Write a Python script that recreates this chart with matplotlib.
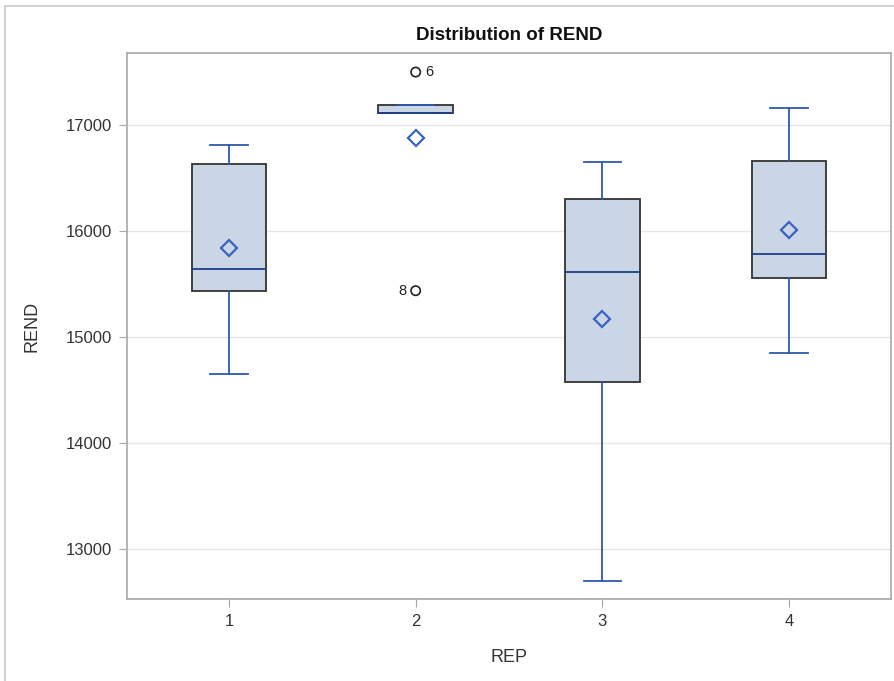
import matplotlib
matplotlib.use("Agg")
import matplotlib.pyplot as plt
from matplotlib.patches import Rectangle

plt.rcParams['font.family'] = ['Liberation Sans', 'DejaVu Sans']

# Box statistics, one entry per REP
reps = [1, 2, 3, 4]
whislo = [14651, 17110, 12698, 14852]
q1 = [15434, 17110, 14575, 15560]
med = [15642, 17112, 15613, 15786]
q3 = [16632, 17189, 16302, 16663]
whishi = [16811, 17189, 16651, 17158]
means = [15840, 16877, 15170, 16012]

# Outliers: (rep, value, obs label, label side)
out_rep = [2, 2]
out_val = [17500, 15437]
out_lab = ['6', '8']
out_side = ['right', 'left']

fill = '#CAD5E5'
blue = '#2F58AD'
dark_blue = '#1E3F8C'

stats = []
for i in range(len(reps)):
    stats.append({'whislo': whislo[i], 'q1': q1[i], 'med': med[i], 'q3': q3[i],
                  'whishi': whishi[i], 'mean': means[i], 'fliers': []})

fig = plt.figure(figsize=(8.95, 6.81), dpi=100)
fig.patches.append(Rectangle((5 / 895, -0.1), 1.1, 1 - 6 / 681 + 0.1,
                             transform=fig.transFigure, fill=False,
                             edgecolor='#C8C8C8', linewidth=1.2))
ax = fig.add_axes([0.1419, 0.1204, 0.8536, 0.8018])

ax.bxp(stats, positions=reps, widths=0.40, showmeans=True, patch_artist=True,
       boxprops=dict(facecolor=fill, edgecolor='#333333', linewidth=1.3),
       whiskerprops=dict(color=blue, linewidth=1.3),
       capprops=dict(color=blue, linewidth=1.3),
       capwidths=0.2,
       medianprops=dict(color=dark_blue, linewidth=1.3),
       meanprops=dict(marker='D', markerfacecolor='none', markeredgecolor='#3A62C0',
                      markeredgewidth=1.6, markersize=8), zorder=3)

ax.scatter(out_rep, out_val, s=45, facecolors='none', edgecolors='#222222',
           linewidths=1.2, zorder=4)
for r, v, lab, side in zip(out_rep, out_val, out_lab, out_side):
    dx = 0.05 if side == 'right' else -0.05
    ax.text(r + dx, v, lab, ha='left' if side == 'right' else 'right',
            va='center', fontsize=10.5, color='#222222')

ax.set_xlim(0.453, 4.547)
ax.set_ylim(12528, 17680)
ax.set_xticks(reps)
ax.set_xticklabels([str(r) for r in reps])
ax.set_yticks([13000, 14000, 15000, 16000, 17000])
ax.grid(axis='y', color='#E6E6E6', linewidth=1.0, zorder=0)
ax.set_axisbelow(True)
for s in ax.spines.values():
    s.set_color('#A8A8A8')
    s.set_linewidth(1.2)
ax.tick_params(direction='out', length=6, color='#A8A8A8', labelsize=12,
               labelcolor='#333333', pad=5)
ax.set_xlabel('REP', fontsize=13, color='#333333', labelpad=14)
ax.set_ylabel('REND', fontsize=13, color='#333333', labelpad=18)
ax.set_title('Distribution of REND', fontsize=13.5, fontweight='bold',
             color='#111111', pad=9)

fig.savefig('out.png', dpi=100)
